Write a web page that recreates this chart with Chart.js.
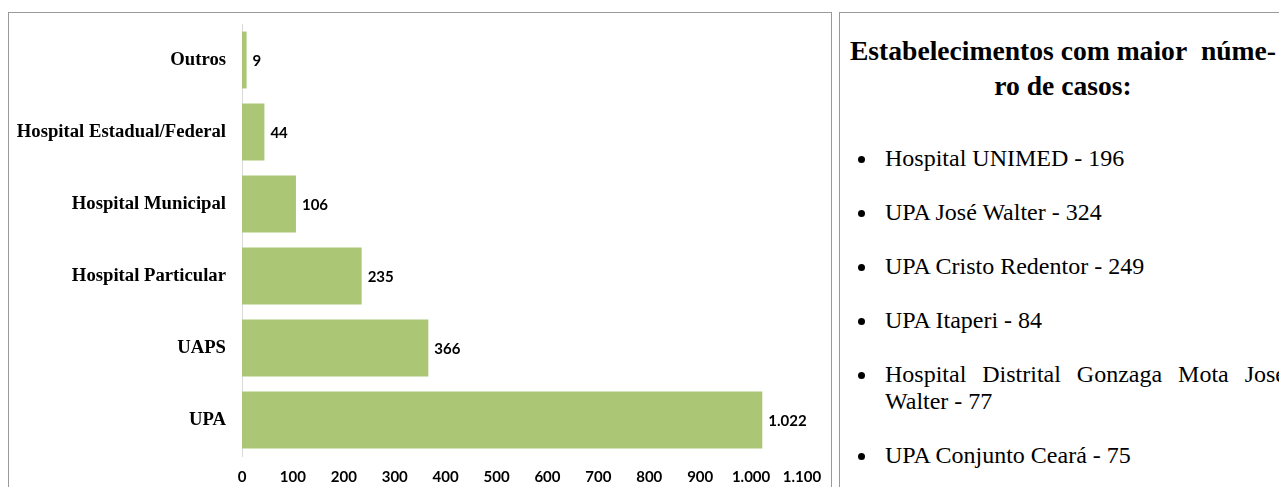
<!DOCTYPE html>
<html lang="pt-BR">
<head>
<meta charset="utf-8">
<title>Casos por tipo de estabelecimento</title>
<script src="https://cdn.jsdelivr.net/npm/chart.js@4.4.1/dist/chart.umd.min.js"></script>
<style>
  html, body { margin: 0; padding: 0; background: #fff; overflow: hidden; }
  body { width: 1279px; height: 487px; position: relative; }
  #chartBox {
    position: absolute; left: 8px; top: 12px; width: 824px; height: 490px;
    border: 1px solid #9a9a9a; box-sizing: border-box;
  }
  #chartBox canvas { position: absolute; left: 0; top: 0; }
  #sideBox {
    position: absolute; left: 839px; top: 12px; width: 470px; height: 490px;
    border: 1px solid #9a9a9a; box-sizing: border-box;
    font-family: "Liberation Serif", "Times New Roman", serif; color: #000;
  }
  #sideTitle {
    position: absolute; left: 8px; top: 20px; width: 430px; white-space: nowrap;
    text-align: center; font-weight: bold; font-size: 27.6px; line-height: 35px;
  }
  #sideList {
    position: absolute; left: 0; top: 132px; width: 446px;
    margin: 0; padding: 0 0 0 45px; box-sizing: border-box; list-style: none;
    font-size: 24px; line-height: 27px; text-align: justify;
  }
  #sideList li { margin: 0 0 27px 0; position: relative; }
  #sideList li::before {
    content: ''; position: absolute; left: -27px; top: 11px;
    width: 7px; height: 7px; border-radius: 50%; background: #000;
  }
</style>
</head>
<body>
<div id="chartBox"><canvas id="chartCanvas" width="822" height="475"></canvas></div>
<div id="sideBox">
  <div id="sideTitle">Estabelecimentos com maior&nbsp; núme-<br>ro de casos:</div>
  <ul id="sideList"></ul>
</div>
<script>
const categories = ['Outros', 'Hospital Estadual/Federal', 'Hospital Municipal', 'Hospital Particular', 'UAPS', 'UPA'];
const casos = [9, 44, 106, 235, 366, 1022];
const xMin = 0, xMax = 1100, xStep = 100;

const estabelecimentos = ['Hospital UNIMED', 'UPA José Walter', 'UPA Cristo Redentor', 'UPA Itaperi',
  'Hospital Distrital Gonzaga Mota Jose Walter', 'UPA Conjunto Ceará'];
const casosEstab = [196, 324, 249, 84, 77, 75];

// formato pt-BR : 1.022
function fmt(v) {
  return String(v).replace(/\B(?=(\d{3})+(?!\d))/g, '.');
}

const ul = document.getElementById('sideList');
estabelecimentos.forEach((nome, i) => {
  const li = document.createElement('li');
  li.textContent = `${nome} - ${casosEstab[i]}`;
  ul.appendChild(li);
});

const labelFont = '"Lato", "Open Sans", sans-serif';

// étiquettes de valeur à droite des barres
const valueLabels = {
  id: 'valueLabels',
  afterDatasetsDraw(chart) {
    const ctx = chart.ctx;
    const meta = chart.getDatasetMeta(0);
    ctx.save();
    ctx.font = `bold 15px ${labelFont}`;
    ctx.fillStyle = '#000';
    ctx.textBaseline = 'middle';
    ctx.textAlign = 'left';
    meta.data.forEach((bar, i) => {
      ctx.fillText(fmt(casos[i]), bar.x + 6, bar.y + 1);
    });
    ctx.restore();
  }
};

const canvas = document.getElementById('chartCanvas');
new Chart(canvas.getContext('2d'), {
  type: 'bar',
  data: {
    labels: categories,
    datasets: [{
      data: casos,
      backgroundColor: '#abc775',
      borderWidth: 0,
      categoryPercentage: 1,
      barPercentage: 0.79
    }]
  },
  options: {
    indexAxis: 'y',
    responsive: false,
    animation: false,
    layout: { padding: { top: 11, right: 29, left: 0, bottom: 0 } },
    plugins: {
      legend: { display: false },
      tooltip: { enabled: false }
    },
    scales: {
      x: {
        min: xMin, max: xMax,
        grid: { display: false, drawTicks: false },
        border: { display: false },
        afterFit: s => { s.height = 32; s.paddingLeft = 0; s.paddingRight = 0; },
        ticks: {
          stepSize: xStep,
          padding: 12,
          color: '#000',
          font: { family: labelFont, size: 15, weight: 'bold' },
          callback: v => fmt(v)
        }
      },
      y: {
        grid: { display: false, drawTicks: false },
        border: { display: true, color: '#d9d9d9', width: 1 },
        afterFit: s => { s.width = 233; s.paddingTop = 0; s.paddingBottom = 0; },
        ticks: {
          padding: 16,
          color: '#000',
          font: { family: '"Liberation Serif", "Times New Roman", serif', size: 18.7, weight: 'bold' }
        }
      }
    }
  },
  plugins: [valueLabels]
});
</script>
</body>
</html>
